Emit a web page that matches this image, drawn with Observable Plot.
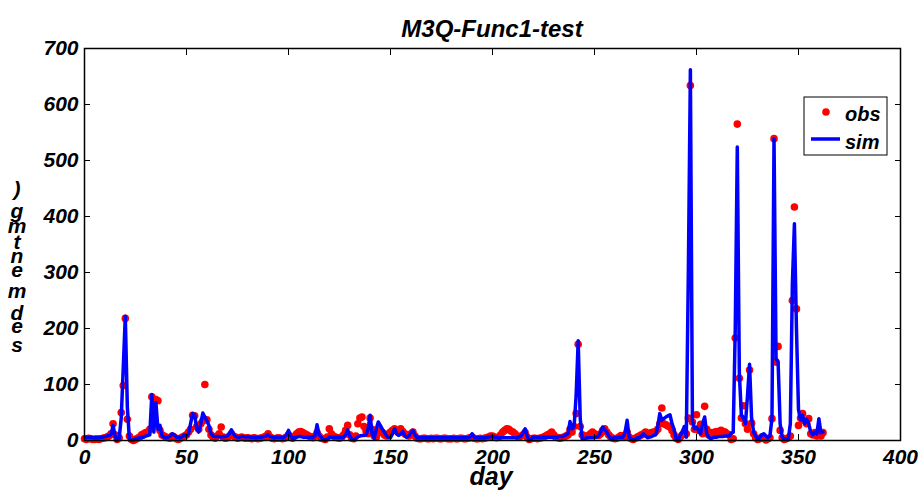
<!DOCTYPE html>
<html><head><meta charset="utf-8">
<script src="https://cdn.jsdelivr.net/npm/d3@7"></script>
<script src="https://cdn.jsdelivr.net/npm/@observablehq/plot@0.6"></script>
<style>body{margin:0;background:#fff} svg{display:block}</style>
</head><body><div id="chart"></div>
<script>
const title = "M3Q-Func1-test";
const xLabel = "day";
const yLabelChars = [")", "g", "m", "t", "n", "e", "m", "d", "e", "s"];
const xTicks = [0, 50, 100, 150, 200, 250, 300, 350, 400];
const yTicks = [0, 100, 200, 300, 400, 500, 600, 700];
const legendLabels = ["obs", "sim"];

const sim = [
  6,6,6,6,5,5,5,5,6,6,
  7,8,9,10,27,8,0,4,40,130,
  222,60,3,0,1,3,4,5,6,6,
  8,9,10,82,15,68,20,27,8,6,
  5,6,8,12,10,6,6,5,7,10,
  8,12,30,48,46,21,15,30,49,42,
  35,27,12,8,7,7,7,6,7,7,
  8,12,19,12,7,6,6,7,7,6,
  7,6,6,6,5,6,6,6,7,8,
  10,7,6,5,6,6,6,5,6,10,
  18,8,4,5,6,7,7,6,6,6,
  6,6,6,8,28,10,6,2,0,3,
  6,6,6,6,6,6,6,6,10,19,
  8,3,1,4,7,8,9,9,10,20,
  45,12,4,20,33,27,20,15,8,5,
  5,12,21,12,9,12,16,8,6,8,
  14,18,10,5,5,5,5,5,5,5,
  5,5,5,5,5,5,5,5,5,5,
  5,5,5,5,5,5,5,5,5,6,
  12,6,5,5,5,5,5,6,6,7,
  7,6,6,5,5,5,5,5,5,5,
  5,5,5,6,8,14,21,8,0,3,
  6,6,6,6,6,6,6,6,6,6,
  6,6,6,7,7,8,10,12,34,21,
  25,80,178,40,2,3,5,5,5,5,
  5,6,8,15,24,20,15,8,3,4,
  5,5,6,6,6,15,36,6,3,0,
  3,5,5,8,12,8,5,6,7,9,
  10,25,48,36,39,42,44,46,30,20,
  3,0,9,15,25,6,300,662,35,21,
  24,18,12,30,42,12,6,3,5,6,
  6,7,7,7,8,8,8,13,15,200,
  524,120,45,40,30,80,136,40,15,8,
  2,5,10,12,8,5,8,40,539,146,
  140,30,6,3,3,2,30,280,387,200,
  55,36,45,30,38,30,15,10,15,12,
  39,14,15
];

const obs = [
  3,2,4,3,2,2,3,2,3,4,
  5,6,8,12,30,10,2,5,50,98,
  218,38,8,2,0,2,4,6,10,12,
  14,15,20,78,30,73,71,18,10,8,
  6,5,4,8,6,3,2,4,6,8,
  10,15,20,45,44,25,20,30,35,100,
  37,20,10,6,4,8,12,24,6,4,
  5,8,12,8,6,4,5,6,5,4,
  5,4,3,5,4,3,4,5,6,8,
  12,6,4,3,4,5,4,3,4,6,
  10,6,4,8,12,15,16,14,12,10,
  8,6,5,8,14,8,4,3,2,6,
  21,12,8,6,5,4,6,10,18,27,
  10,4,3,8,30,40,42,25,17,12,
  40,20,8,6,14,18,14,10,8,12,
  15,18,21,17,14,21,16,12,10,8,
  12,15,8,4,3,3,4,4,3,3,
  4,3,4,4,3,3,4,4,3,3,
  3,4,3,3,4,4,3,3,4,5,
  6,4,3,3,4,3,4,5,6,8,
  8,6,5,6,10,15,18,21,20,17,
  15,12,8,6,8,10,14,6,2,3,
  4,4,3,4,5,6,8,10,12,15,
  10,6,5,4,5,6,8,10,20,15,
  25,48,172,25,10,6,8,9,12,15,
  12,10,9,12,18,21,15,10,6,4,
  3,4,6,9,6,8,15,6,3,2,
  4,6,8,10,12,15,12,13,14,15,
  16,20,30,58,30,28,26,24,18,10,
  4,2,6,10,15,12,40,634,33,20,
  46,18,29,12,61,20,10,14,12,15,
  16,14,18,16,15,12,10,2,3,183,
  565,111,40,62,30,20,126,31,12,5,
  2,3,6,4,1,3,5,39,539,140,
  168,18,5,2,3,5,8,250,417,235,
  27,40,48,35,30,39,12,10,14,8,
  12,8,14
];

const data = obs.map((v, i) => ({day: i, obs: v, sim: sim[i]}));

const W = 920, H = 491;
const font = "'Liberation Sans', Arial, Helvetica, sans-serif";
const plot = Plot.plot({
  width: W, height: H,
  marginLeft: 84, marginRight: 20, marginTop: 48, marginBottom: 51,
  style: {fontFamily: font, fontSize: "21px", fontWeight: "bold", fontStyle: "italic", background: "transparent", color: "black", overflow: "visible"},
  x: {domain: [0, 400]},
  y: {domain: [0, 700]},
  marks: [
    Plot.dot(data, {x: "day", y: "obs", r: 3.8, fill: "#ff0000", stroke: "none"}),
    Plot.line(data, {x: "day", y: "sim", stroke: "#0000ff", strokeWidth: 3.5, strokeLinejoin: "round"}),
    Plot.frame({stroke: "black", strokeWidth: 1.5}),
    Plot.axisX({ticks: xTicks, anchor: "bottom", tickSize: -6, tickPadding: 15, label: null, stroke: "black"}),
    Plot.axisX({ticks: xTicks, anchor: "top", tickSize: -6, tickFormat: () => "", label: null}),
    Plot.axisY({ticks: yTicks, anchor: "left", tickSize: -6, tickPadding: 12, label: null}),
    Plot.axisY({ticks: yTicks, anchor: "right", tickSize: -6, tickFormat: () => "", label: null})
  ]
});
document.getElementById("chart").appendChild(plot);

const svg = d3.select(plot);
const tf = (sel, size) => sel.attr("font-family", font).attr("font-weight", "bold").attr("font-style", "italic").attr("font-size", size).attr("fill", "black");

svg.append("text").text(title).attr("x", 492).attr("y", 37).attr("text-anchor", "middle").call(tf, 24);
svg.append("text").text(xLabel).attr("x", 491).attr("y", 485).attr("text-anchor", "middle").call(tf, 25);

// garbled vertical y label, stacked glyphs in one text element
const yPos = [196, 218, 233, 249, 263, 277, 298, 320, 333, 352];
const yl = svg.append("text").attr("text-anchor", "middle").call(tf, 21);
yLabelChars.forEach((c, i) => {
  yl.append("tspan").attr("x", 17).attr("y", yPos[i]).text(c);
});

// legend
const lg = svg.append("g");
lg.append("rect").attr("x", 804).attr("y", 97).attr("width", 83).attr("height", 58).attr("fill", "white").attr("stroke", "black").attr("stroke-width", 1);
lg.append("circle").attr("cx", 826).attr("cy", 112).attr("r", 3.8).attr("fill", "#ff0000");
lg.append("text").text(legendLabels[0]).attr("x", 845).attr("y", 121).attr("text-anchor", "start").call(tf, 20);
lg.append("line").attr("x1", 811).attr("x2", 840).attr("y1", 139).attr("y2", 139).attr("stroke", "#0000ff").attr("stroke-width", 3.5);
lg.append("text").text(legendLabels[1]).attr("x", 845).attr("y", 149).attr("text-anchor", "start").call(tf, 20);
</script></body></html>
